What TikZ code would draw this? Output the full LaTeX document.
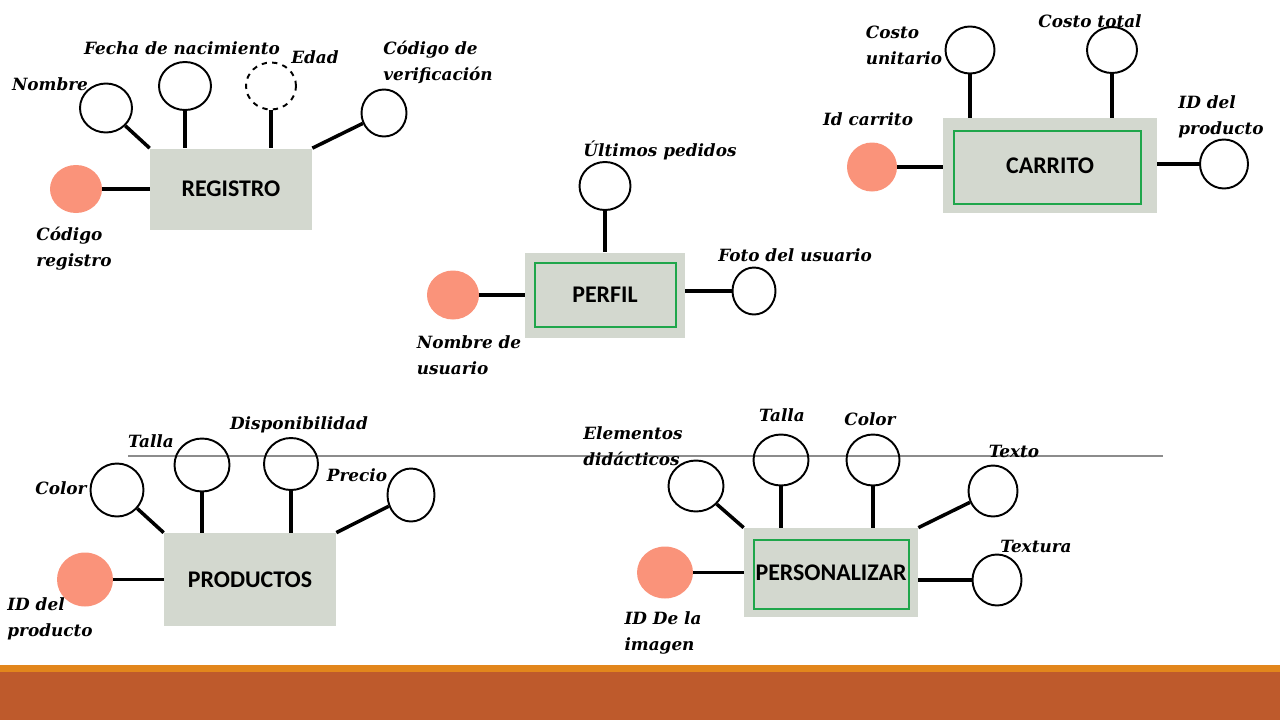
\documentclass[tikz,border=0pt]{standalone}
\usepackage{fontspec}
\usetikzlibrary{shapes.geometric}
\newfontfamily\labfont{DejaVu Serif}
\newfontfamily\entfont{Carlito}
\definecolor{boxgray}{HTML}{D3D8CF}
\definecolor{pkfill}{HTML}{FA937A}
\definecolor{weakgreen}{HTML}{1FA64B}
\definecolor{bandorange}{HTML}{E2861C}
\definecolor{bandbrick}{HTML}{BE5A2C}
\definecolor{rulegray}{HTML}{8C8C8C}
\tikzset{
  attr/.style 2 args={ellipse, draw=black, line width=1.1pt, inner sep=0pt,
    minimum width={#1*0.02cm}, minimum height={#2*0.02cm}},
  pkattr/.style 2 args={ellipse, fill=pkfill, draw=none, inner sep=0pt,
    minimum width={#1*0.02cm}, minimum height={#2*0.02cm}},
  entbox/.style 2 args={rectangle, fill=boxgray, draw=none, inner sep=0pt,
    minimum width={#1*0.02cm}, minimum height={#2*0.02cm},
    font=\entfont\bfseries\fontsize{13.6}{15}\selectfont},
  weakin/.style 2 args={rectangle, draw=weakgreen, line width=1.1pt, inner sep=0pt,
    minimum width={#1*0.02cm}, minimum height={#2*0.02cm}},
  lab/.style={font=\labfont\bfseries\itshape\fontsize{9.6}{14.7}\selectfont, align=left, inner sep=0pt},
  conn/.style={line width=2pt, black}
}
\begin{document}
\begin{tikzpicture}[x=0.02cm, y=-0.02cm]
\useasboundingbox (0,0) rectangle (1280,720);
% bottom band
\fill[bandorange] (0,665) rectangle (1280,673);
\fill[bandbrick] (0,672) rectangle (1280,720);
% thin rule
\draw[rulegray, line width=0.6pt] (128,456) -- (1163,456);

% ---------- REGISTRO ----------
\node[entbox={162}{81}] (reg) at (231,189) {REGISTRO};
\node[attr={52}{49}] (nom) at (106,108) {};
\node[attr={52}{48}] (fecha) at (185,86) {};
\node[attr={50}{47}, dashed] (edad) at (271,86) {};
\node[attr={45}{47}] (cver) at (384,113) {};
\node[pkattr={52}{48}] (creg) at (76,189) {};
\draw[conn] (nom) -- (reg.north west);
\draw[conn] (fecha) -- (fecha |- reg.north);
\draw[conn] (edad) -- (edad |- reg.north);
\draw[conn] (cver) -- (reg.north east);
\draw[conn] (creg) -- (reg.west);
\node[lab] (lnom) at (50,84) {Nombre};
\node[lab] (lfecha) at (182,48) {Fecha de nacimiento};
\node[lab] (ledad) at (315,57) {Edad};
\node[lab] (lcver) at (438,62) {Código de\\verificación};
\node[lab] (lcreg) at (74,249) {Código\\registro};

% ---------- PERFIL ----------
\node[entbox={160}{85}] (per) at (605,295) {PERFIL};
\node[weakin={141}{64}] (perin) at (605.5,295) {};
\node[attr={51}{48}] (ult) at (605,186) {};
\node[attr={43}{47}] (foto) at (754,291) {};
\node[pkattr={52}{49}] (nus) at (453,295) {};
\draw[conn] (ult) -- (ult |- per.north);
\draw[conn] (foto) -- (foto -| per.east);
\draw[conn] (nus) -- (per.west);
\node[lab] (lult) at (660,150) {Últimos pedidos};
\node[lab] (lfoto) at (795,255) {Foto del usuario};
\node[lab] (lnus) at (469,355) {Nombre de\\usuario};

% ---------- CARRITO ----------
\node[entbox={214}{95}] (car) at (1050,165.5) {CARRITO};
\node[weakin={187}{73}] (carin) at (1047.5,167.5) {};
\node[attr={49}{47}] (cu) at (970,50) {};
\node[attr={50}{46}] (ct) at (1112,50) {};
\node[attr={48}{49}] (idp) at (1224,164) {};
\node[pkattr={50}{49}] (idc) at (872,167) {};
\draw[conn] (cu) -- (cu |- car.north);
\draw[conn] (ct) -- (ct |- car.north);
\draw[conn] (idp) -- (idp -| car.east);
\draw[conn] (idc) -- (idc -| car.west);
\node[lab] (lcu) at (904,45) {Costo\\unitario};
\node[lab] (lct) at (1090,21) {Costo total};
\node[lab] (lidc) at (868,119) {Id carrito};
\node[lab] (lidp) at (1221,117) {ID del\\producto};

% ---------- PRODUCTOS ----------
\node[entbox={172}{93}] (prod) at (250,579.5) {PRODUCTOS};
\node[attr={53}{53}] (pcol) at (117,490) {};
\node[attr={55}{53}] (ptal) at (202,465) {};
\node[attr={54}{52}] (pdis) at (291,464) {};
\node[attr={47}{53}] (ppre) at (411,495) {};
\node[pkattr={56}{54}] (pid) at (85,579.5) {};
\draw[conn] (pcol) -- (prod.north west);
\draw[conn] (ptal) -- (ptal |- prod.north);
\draw[conn] (pdis) -- (pdis |- prod.north);
\draw[conn] (ppre) -- (prod.north east);
\draw[conn] (pid) -- (prod.west);
\node[lab] (lpcol) at (61,488) {Color};
\node[lab] (lptal) at (151,441) {Talla};
\node[lab] (lpdis) at (299,425) {Disponibilidad};
\node[lab] (lppre) at (357,475) {Precio};
\node[lab] (lpid) at (50,619) {ID del\\producto};

% ---------- PERSONALIZAR ----------
\node[entbox={174}{89}] (pers) at (831,572.5) {PERSONALIZAR};
\node[weakin={155}{69}] (persin) at (831.5,574.5) {};
\node[attr={55}{51}] (eld) at (696,486) {};
\node[attr={55}{51}] (stal) at (781,460) {};
\node[attr={53}{51}] (scol) at (873,460) {};
\node[attr={49}{51}] (stex) at (993,491) {};
\node[attr={49}{51}] (stxa) at (997,580) {};
\node[pkattr={56}{52}] (sid) at (665,572.5) {};
\draw[conn] (eld) -- (pers.north west);
\draw[conn] (stal) -- (stal |- pers.north);
\draw[conn] (scol) -- (scol |- pers.north);
\draw[conn] (stex) -- (pers.north east);
\draw[conn] (stxa) -- (stxa -| pers.east);
\draw[conn] (sid) -- (pers.west);
\node[lab] (leld) at (633,446) {Elementos\\didácticos};
\node[lab] (lstal) at (782,415) {Talla};
\node[lab] (lscol) at (870,419) {Color};
\node[lab] (lstex) at (1014,451) {Texto};
\node[lab] (lstxa) at (1036,546) {Textura};
\node[lab] (lsid) at (663,633) {ID De la\\imagen};
\end{tikzpicture}
\end{document}
